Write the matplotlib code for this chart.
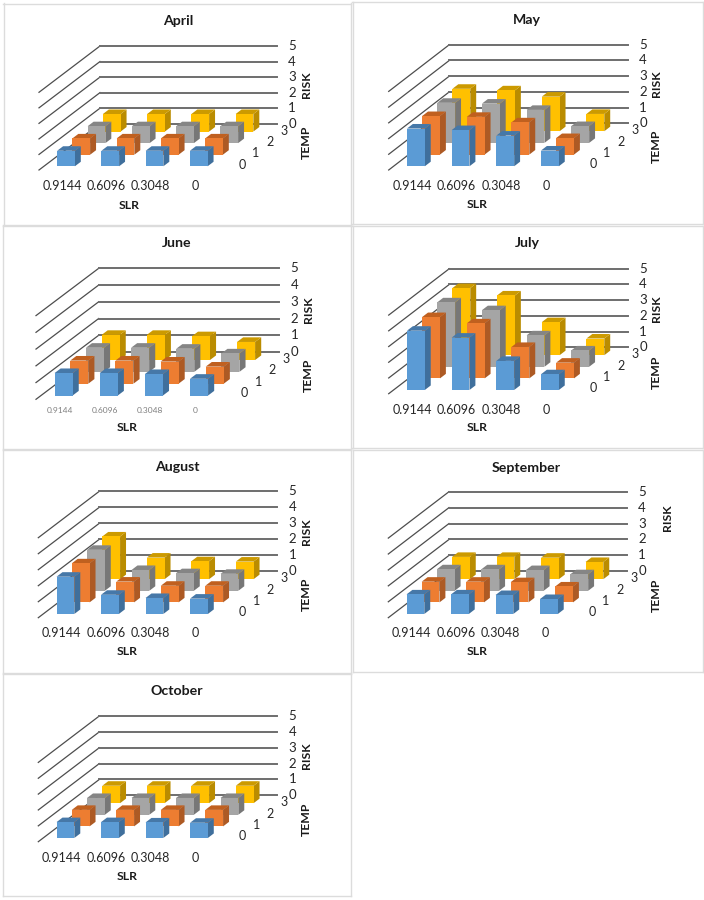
import matplotlib
matplotlib.use('Agg')
import matplotlib.pyplot as plt
from matplotlib.patches import Polygon

plt.rcParams['font.family'] = ['Lato', 'DejaVu Sans']

slr_labels = ['0.9144', '0.6096', '0.3048', '0']
temp_labels = ['0', '1', '2', '3']
risk_ticks = [0, 1, 2, 3, 4, 5]

# risk by TEMP row, each list runs over the SLR categories
april = [[1.0, 1.0, 1.0, 1.0], [1.05, 1.05, 1.05, 1.05], [1.09, 1.09, 1.09, 1.09], [1.13, 1.13, 1.13, 1.13]]
may = [[2.4, 2.3, 1.95, 1.0], [2.45, 2.4, 2.05, 1.05], [2.55, 2.5, 2.1, 1.07], [2.7, 2.6, 2.2, 1.1]]
june = [[1.34, 1.34, 1.28, 1.0], [1.38, 1.38, 1.32, 1.02], [1.44, 1.44, 1.38, 1.1], [1.5, 1.5, 1.42, 1.08]]
july = [[3.77, 3.33, 1.85, 1.0], [3.9, 3.5, 2.0, 1.0], [4.1, 3.6, 2.0, 1.04], [4.27, 3.8, 2.1, 1.06]]
august = [[2.33, 1.2, 1.0, 0.96], [2.44, 1.3, 1.04, 1.04], [2.56, 1.3, 1.1, 1.06], [2.67, 1.35, 1.12, 1.1]]
september = [[1.23, 1.23, 1.19, 0.94], [1.3, 1.3, 1.27, 1.0], [1.35, 1.35, 1.3, 1.04], [1.4, 1.4, 1.35, 1.08]]
october = [[1.0, 1.0, 0.98, 0.96], [1.04, 1.04, 1.04, 1.04], [1.06, 1.06, 1.06, 1.06], [1.1, 1.1, 1.1, 1.1]]

# front, side and top colour of each TEMP row
front_colors = ['#5B9BD5', '#ED7D31', '#A5A5A5', '#FFC000']
side_colors = ['#3F6F9C', '#AD5A24', '#777777', '#BA8C00']
top_colors = ['#4678A8', '#C0601F', '#858585', '#CC9A00']

W, H = 704, 900

# layout in image pixels
panels = [
    dict(name='April', data=april, box=(3.5, 3.5, 351, 225), back=100, right=277, y5=46, y0=123.7,
         fx=39, fy=170, title=(178, 21), slr=186, slr_t=(128.7, 205.3), risk=(306.7, 84.3), temp=(306.7, 142.7)),
    dict(name='May', data=may, box=(352.5, 2, 703, 224), back=449.3, right=628, y5=44.7, y0=123.3,
         fx=388.7, fy=170, title=(527, 20), slr=185.7, slr_t=(477, 204.3), risk=(656.3, 83.3), temp=(656.3, 146.7)),
    dict(name='June', data=june, box=(3, 226, 351, 449), back=98.7, right=279.3, y5=268.3, y0=352,
         fx=36, fy=399.3, title=(177, 243), slr=410.3, slr_t=(126.7, 427.7), risk=(308.3, 310), temp=(308.3, 375),
         small=True),
    dict(name='July', data=july, box=(352.5, 226, 703, 448), back=449.3, right=628, y5=268.7, y0=347.3,
         fx=388.7, fy=393.7, title=(527, 243.3), slr=410, slr_t=(477, 427.7), risk=(656.3, 308.7), temp=(656.3, 372.7)),
    dict(name='August', data=august, box=(3, 450, 351, 673), back=99.3, right=277.3, y5=491.3, y0=571.3,
         fx=38.3, fy=617.7, title=(177, 467), slr=633, slr_t=(127.3, 651.7), risk=(306.3, 531.3), temp=(306.3, 594)),
    dict(name='September', data=september, box=(353, 450, 703, 672), back=449, right=627, y5=491.7, y0=571.3,
         fx=388.3, fy=617.7, title=(526, 467.7), slr=633, slr_t=(477, 651.7), risk=(667, 518), temp=(656.3, 595)),
    dict(name='October', data=october, box=(3, 674, 351, 896), back=99.3, right=277.3, y5=716, y0=795.3,
         fx=38.3, fy=841.7, title=(177, 691), slr=858, slr_t=(127, 876), risk=(306.3, 755.3), temp=(306.3, 819.7)),
]

text_color = '#262626'


def draw_panel(fig, p):
    x0, y0, x1, y1 = p['box']
    ax = fig.add_axes([x0 / W, 1 - y1 / H, (x1 - x0) / W, (y1 - y0) / H])
    ax.set_xlim(x0, x1)
    ax.set_ylim(y1, y0)
    ax.set_xticks([])
    ax.set_yticks([])
    for s in ax.spines.values():
        s.set_color('#dcdcdc')
        s.set_linewidth(1)

    unit = (p['y0'] - p['y5']) / 5
    cat_w = (p['right'] - p['back']) / 4
    row_dx = (p['fx'] - p['back']) / 4
    row_dy = (p['fy'] - p['y0']) / 4

    # cat and row measured from the front left corner of the floor
    def project(cat, row, risk):
        return (p['fx'] + cat * cat_w - row * row_dx, p['fy'] + row * row_dy * -1 - risk * unit)

    for r in risk_ticks:
        xb, yb = project(0, 4, r)
        xf, yf = project(0, 0, r)
        ax.plot([xb, xf], [yb, yf], color='#4d4d4d', lw=0.9, zorder=1)
        ax.plot([xb, p['right']], [yb, yb], color='#6e6e6e', lw=1.4, zorder=1)
        ax.text(p['right'] + 15, yb, str(r), ha='center', va='center', fontsize=9.5, color=text_color)

    # yellow row at the back first, blue row last
    for row in range(3, -1, -1):
        for cat in range(3, -1, -1):
            v = p['data'][row][cat]
            c0, c1 = cat + 0.3, cat + 0.7
            r0, r1 = row + 0.32, row + 0.71
            fl, fr = project(c0, r0, 0), project(c1, r0, 0)
            tl, tr = project(c0, r0, v), project(c1, r0, v)
            br, bt = project(c1, r1, 0), project(c1, r1, v)
            bl = project(c0, r1, v)
            z = 10 + (3 - row) * 10 - cat
            ax.add_patch(Polygon([fr, br, bt, tr], fc=side_colors[row], ec='none', zorder=z))
            ax.add_patch(Polygon([tl, tr, bt, bl], fc=top_colors[row], ec='none', zorder=z))
            ax.add_patch(Polygon([fl, fr, tr, tl], fc=front_colors[row], ec='none', zorder=z))

    for i, lab in enumerate(slr_labels):
        x = project(i + 0.52, 0, 0)[0]
        if p.get('small'):
            ax.text(x, p['slr'], lab, ha='center', va='center', fontsize=6, color='#7f7f7f')
        else:
            ax.text(x, p['slr'], lab, ha='center', va='center', fontsize=9, color=text_color)

    # TEMP ticks step up to the right, next to the floor
    for i, lab in enumerate(temp_labels):
        ax.text(p['right'] - 35 + i * 14, p['y0'] + 41 - i * 11.3, lab, ha='center', va='center',
                fontsize=9, color=text_color)

    ax.text(p['title'][0], p['title'][1], p['name'], ha='center', va='center', fontsize=10.2,
            fontweight='bold', color='#1a1a1a')
    ax.text(p['slr_t'][0], p['slr_t'][1], 'SLR', ha='center', va='center', fontsize=8.8,
            fontweight='bold', color='#1a1a1a')
    ax.text(p['risk'][0], p['risk'][1], 'RISK', ha='center', va='center', rotation=90, fontsize=8.8,
            fontweight='bold', color='#1a1a1a')
    ax.text(p['temp'][0], p['temp'][1], 'TEMP', ha='center', va='center', rotation=90, fontsize=8.8,
            fontweight='bold', color='#1a1a1a')


fig = plt.figure(figsize=(7.04, 9), dpi=100, facecolor='white')
for p in panels:
    draw_panel(fig, p)
fig.savefig('out.png', dpi=100)
